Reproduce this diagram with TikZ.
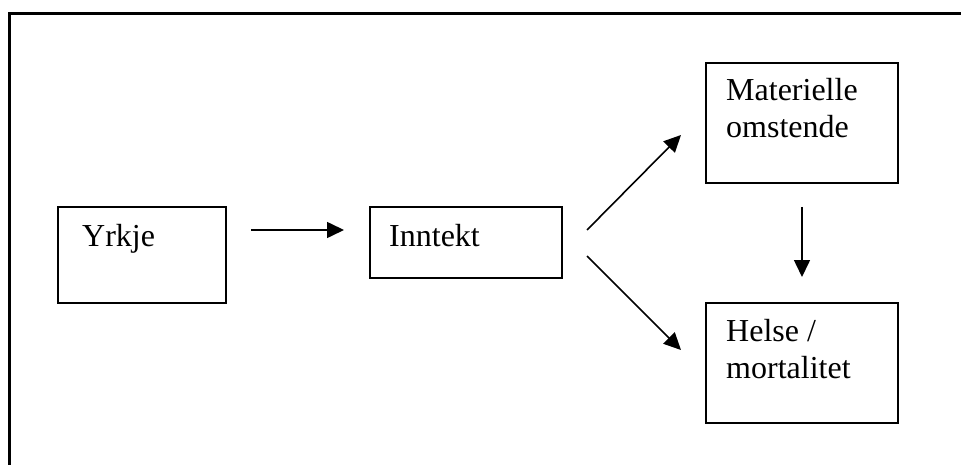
\documentclass[tikz,border=0pt]{standalone}
\usepackage{fontspec}
\setmainfont{Liberation Serif}
\usetikzlibrary{arrows.meta,calc}
\tikzset{
  boxnode/.style={draw=black, line width=2pt, rectangle, inner sep=0pt},
  lbl/.style={anchor=base west, inner sep=0pt, font=\fontsize{32}{36}\selectfont, align=left},
  conn/.style={line width=1.6pt, -{Triangle[length=17pt,width=16pt]}},
  frame/.style={line width=3pt}
}
\begin{document}
\begin{tikzpicture}[x=1pt,y=-1pt]
\useasboundingbox (0,0) rectangle (961,465);
% outer frame (top and left only)
\coordinate (ftr) at (961,14);
\coordinate (ftl) at (9,14);
\coordinate (fbl) at (9,465);
\draw[frame] (ftr) -- (ftl) -- (fbl);
% boxes
\node[boxnode, minimum width=168pt, minimum height=96pt] (yrkje) at (142,255) {};
\node[boxnode, minimum width=192pt, minimum height=71pt] (inntekt) at (466,242.5) {};
\node[boxnode, minimum width=192pt, minimum height=120pt] (mat) at (802,123) {};
\node[boxnode, minimum width=192pt, minimum height=120pt] (helse) at (802,363) {};
% texts
\node[lbl] (t1) at ($(yrkje.north west)+(25,41)$) {Yrkje};
\node[lbl] (t2) at ($(inntekt.north west)+(20,41)$) {Inntekt};
\node[lbl] (t3) at ($(mat.north west)+(21,39)$) {Materielle};
\node[lbl] (t3b) at ($(mat.north west)+(21,76)$) {omstende};
\node[lbl] (t4) at ($(helse.north west)+(21,39)$) {Helse /};
\node[lbl] (t4b) at ($(helse.north west)+(21,76)$) {mortalitet};
% connectors
\draw[conn] ($(yrkje.north east)+(24,24)$) -- ($(inntekt.north west)+(-25,24)$);
\draw[conn] ($(inntekt.north east)+(24,24)$) -- ($(mat.west)+(-24,12)$);
\draw[conn] ($(inntekt.south east)+(24,-23)$) -- ($(helse.west)+(-24,-13)$);
\draw[conn] ($(mat.south)+(0,23)$) -- ($(helse.north)+(0,-25)$);
\end{tikzpicture}
\end{document}
